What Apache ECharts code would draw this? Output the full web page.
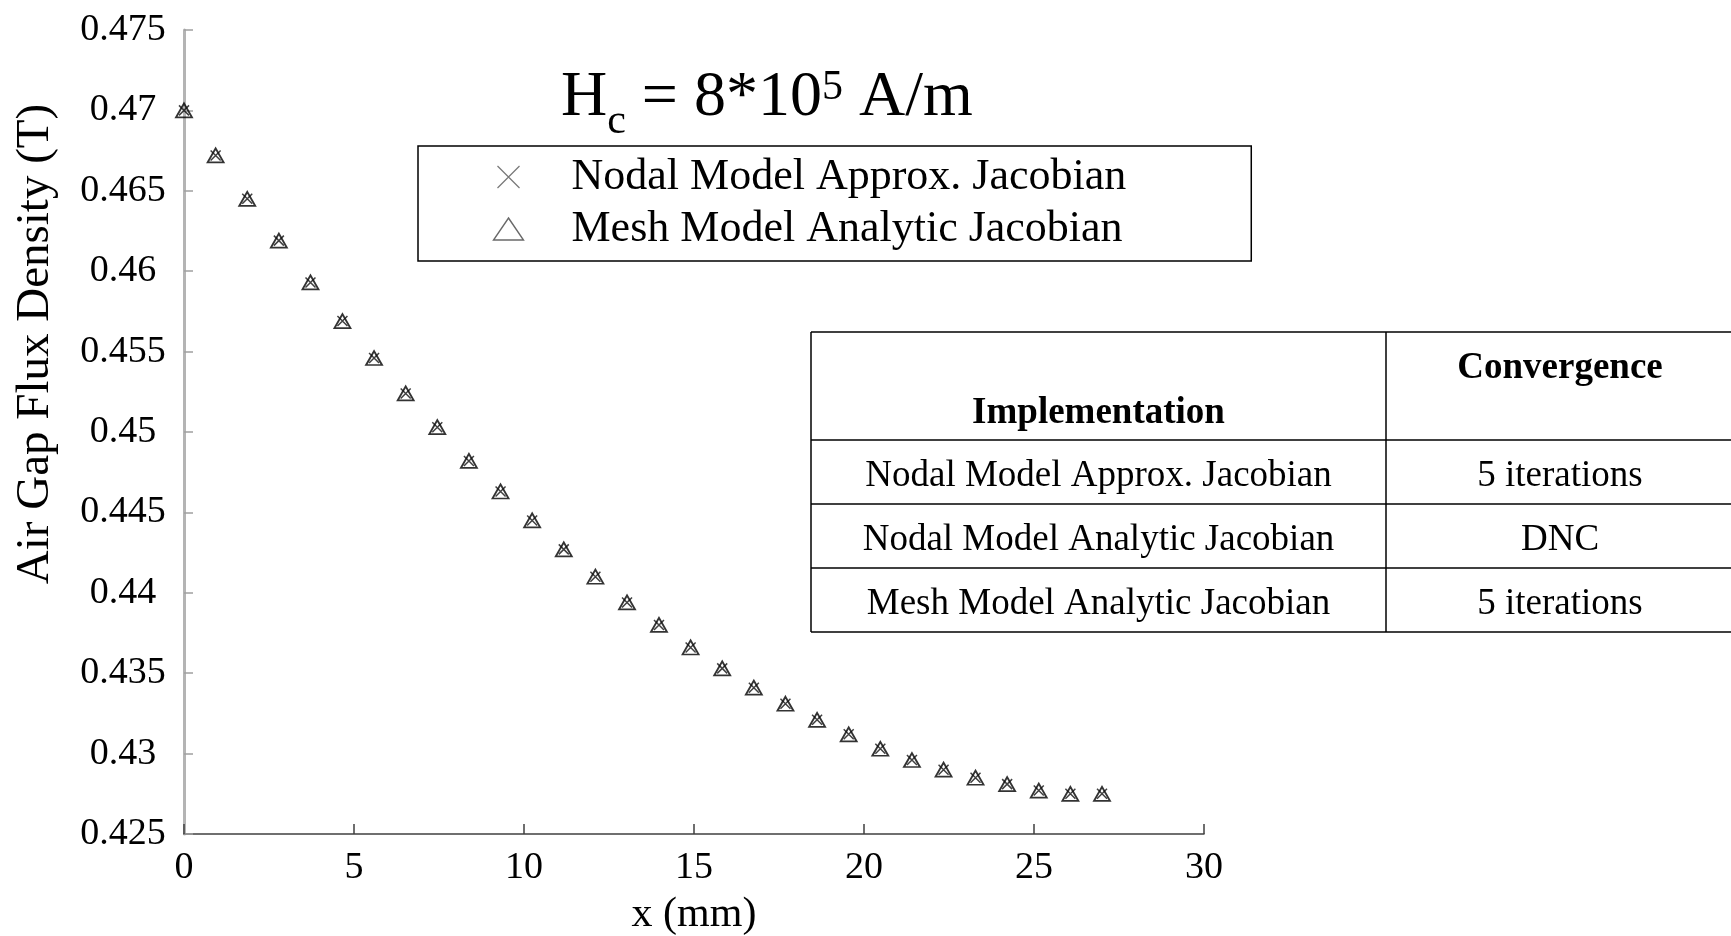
<!DOCTYPE html>
<html>
<head>
<meta charset="utf-8">
<script src="https://cdn.jsdelivr.net/npm/echarts@6/dist/echarts.min.js"></script>
<style>
    html, body { margin: 0; padding: 0; background: #fff; }
    #chart { width: 1731px; height: 936px; }
</style>
</head>
<body>
<div id="chart"></div>
<script>
    // positions along the gap (mm)
    var xMm = [0, 0.93, 1.86, 2.79, 3.72, 4.66, 5.59, 6.52, 7.45, 8.38,
               9.31, 10.24, 11.17, 12.1, 13.03, 13.97, 14.9, 15.83, 16.76, 17.69,
               18.62, 19.55, 20.48, 21.41, 22.34, 23.28, 24.21, 25.14, 26.07, 27.0];
    // flux density (T), both implementations lie on top of each other
    var nodalApprox = [0.4700, 0.4672, 0.4645, 0.4619, 0.4593, 0.4569, 0.4546, 0.4524, 0.4503, 0.4482,
                       0.4463, 0.4445, 0.4427, 0.4410, 0.4394, 0.4380, 0.4366, 0.4353, 0.4341, 0.4331,
                       0.4321, 0.4312, 0.4303, 0.4296, 0.4290, 0.4285, 0.4281, 0.4277, 0.4275, 0.4275];
    var meshAnalytic = [0.4700, 0.4672, 0.4645, 0.4619, 0.4593, 0.4569, 0.4546, 0.4524, 0.4503, 0.4482,
                        0.4463, 0.4445, 0.4427, 0.4410, 0.4394, 0.4380, 0.4366, 0.4353, 0.4341, 0.4331,
                        0.4321, 0.4312, 0.4303, 0.4296, 0.4290, 0.4285, 0.4281, 0.4277, 0.4275, 0.4275];

    var seriesNames = ['Nodal Model Approx. Jacobian', 'Mesh Model Analytic Jacobian'];
    var xTicks = [0, 30, 5];          // min, max, step
    var yTicks = [0.425, 0.475, 0.005];

    var tableHeader = ['Implementation', 'Convergence'];
    var tableRows = [
        ['Nodal Model Approx. Jacobian', '5 iterations'],
        ['Nodal Model Analytic Jacobian', 'DNC'],
        ['Mesh Model Analytic Jacobian', '5 iterations']
    ];

    var serif = 'Liberation Serif';

    function pairs(ys) {
        return xMm.map(function (x, i) { return [x, ys[i]]; });
    }

    // table drawn with graphic elements
    var tbl = { left: 811, split: 1386, right: 1731, top: 332, rows: [440, 504, 568, 632] };
    var extras = [];
    [tbl.top].concat(tbl.rows).forEach(function (y) {
        extras.push({ type: 'line', shape: { x1: tbl.left, y1: y, x2: tbl.right, y2: y },
            style: { stroke: '#000', lineWidth: 1.5 } });
    });
    [tbl.left, tbl.split].forEach(function (x) {
        extras.push({ type: 'line', shape: { x1: x, y1: tbl.top, x2: x, y2: tbl.rows[3] },
            style: { stroke: '#000', lineWidth: 1.5 } });
    });
    var col1 = (tbl.left + tbl.split) / 2, col2 = 1560;
    function cellText(x, y, txt, bold) {
        return { type: 'text', x: x, y: y, style: { text: txt,
            font: (bold ? 'bold ' : '') + '37px "' + serif + '"', fill: '#000',
            textAlign: 'center', textVerticalAlign: 'middle' } };
    }
    extras.push(cellText(col1, 413, tableHeader[0], true));
    extras.push(cellText(col2, 368, tableHeader[1], true));
    tableRows.forEach(function (r, i) {
        var yc = tbl.rows[i] + 36;
        extras.push(cellText(col1, yc, r[0], false));
        extras.push(cellText(col2, yc, r[1], false));
    });

    // y axis title, rotated
    extras.push({ type: 'text', x: 36, y: 344, rotation: Math.PI / 2,
        style: { text: 'Air Gap Flux Density (T)', font: '47px "' + serif + '"', fill: '#000',
            textAlign: 'center', textVerticalAlign: 'middle' } });

    var xIcon = 'path://M0,0L10,10M10,0L0,10';

    var myChart = echarts.init(document.getElementById('chart'));
    var option = {
        backgroundColor: '#fff',
        animation: false,
        title: {
            left: 556,
            top: 48,
            text: '{m|H}{s|c}{m| = 8*10}{p|5}{m| A/m}',
            textStyle: {
                rich: {
                    m: { fontFamily: serif, fontWeight: 'normal', fontSize: 64, color: '#000', lineHeight: 90, verticalAlign: 'middle' },
                    s: { fontFamily: serif, fontWeight: 'normal', fontSize: 42, color: '#000', lineHeight: 42, verticalAlign: 'bottom' },
                    p: { fontFamily: serif, fontWeight: 'normal', fontSize: 42, color: '#000', lineHeight: 42, verticalAlign: 'top', padding: [14, 0, 0, 0] }
                }
            }
        },
        legend: {
            orient: 'vertical',
            left: 418,
            top: 146,
            padding: [9, 125, 10, 73],
            itemGap: 8,
            itemWidth: 30,
            itemHeight: 22,
            borderColor: '#000',
            borderWidth: 1.5,
            textStyle: { fontFamily: serif, fontSize: 44, color: '#000', padding: [0, 0, 0, 43] },
            data: [
                { name: seriesNames[0], icon: xIcon, itemStyle: { color: 'none', borderColor: '#555', borderWidth: 1.2 } },
                { name: seriesNames[1], icon: 'triangle', itemStyle: { color: 'none', borderColor: '#444', borderWidth: 1.4 } }
            ]
        },
        grid: { left: 184, right: 527, top: 30, bottom: 102, containLabel: false, outerBoundsMode: 'none' },
        xAxis: {
            type: 'value',
            min: xTicks[0], max: xTicks[1], interval: xTicks[2],
            name: 'x (mm)',
            nameLocation: 'middle',
            nameGap: 60,
            nameTextStyle: { fontFamily: serif, fontSize: 42, color: '#000' },
            axisLine: { show: true, onZero: false, lineStyle: { color: '#404040', width: 1.5 } },
            axisTick: { inside: true, length: 10, lineStyle: { color: '#404040', width: 1.5 } },
            axisLabel: { fontFamily: serif, fontSize: 38, color: '#000', margin: 15 },
            splitLine: { show: false }
        },
        yAxis: {
            type: 'value',
            min: yTicks[0], max: yTicks[1], interval: yTicks[2],
            axisLine: { show: true, onZero: false, lineStyle: { color: '#b4b4b4', width: 3 } },
            axisTick: { inside: true, length: 9, lineStyle: { color: '#a0a0a0', width: 1.5 } },
            axisLabel: {
                fontFamily: serif, fontSize: 38, color: '#000', margin: 61, align: 'center',
                formatter: function (v) { return String(parseFloat(v.toFixed(3))); }
            },
            splitLine: { show: false }
        },
        series: [
            {
                name: seriesNames[0],
                type: 'scatter',
                data: pairs(nodalApprox),
                symbol: xIcon,
                symbolSize: 10,
                itemStyle: { color: 'none', borderColor: '#111', borderWidth: 1.5 },
                z: 3
            },
            {
                name: seriesNames[1],
                type: 'scatter',
                data: pairs(meshAnalytic),
                symbol: 'triangle',
                symbolSize: [16, 14],
                itemStyle: { color: 'none', borderColor: '#000', borderWidth: 1.8 },
                z: 2
            }
        ],
        graphic: extras
    };
    myChart.setOption(option);
</script>
</body>
</html>
